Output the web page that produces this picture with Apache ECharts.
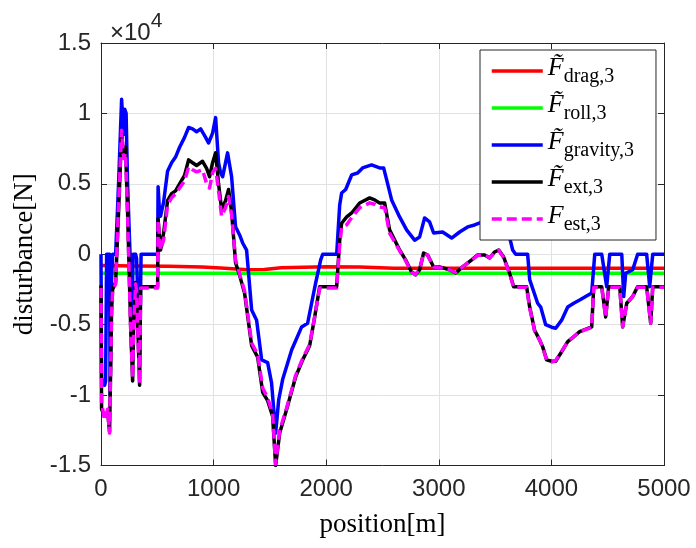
<!DOCTYPE html>
<html><head><meta charset="utf-8">
<script src="https://cdn.jsdelivr.net/npm/echarts@6/dist/echarts.min.js"></script>
<style>html,body{margin:0;padding:0;background:#fff}#c{width:696px;height:548px}</style>
</head><body><div id="c"></div>
<script>
// position [m], disturbance [N]
const drag = [[0,-800],[300,-830],[600,-850],[900,-900],[1100,-1000],[1300,-1100],[1450,-1080],[1600,-960],[2000,-890],[2300,-900],[2600,-990],[3000,-1000],[5000,-1000]];
const roll = [[0,-1350],[5000,-1350]];
const gravity = [[0,0],[5,-8800],[32,-9300],[41,-9000],[50,0],[76,0],[81,-10000],[94,-1800],[103,0],[130,0],[156,5000],[183,11000],[201,8500],[210,10300],[223,10000],[236,5000],[258,0],[272,-6800],[285,0],[307,0],[316,-300],[334,-4800],[343,-7100],[356,0],[503,0],[507,4800],[520,3000],[529,2700],[556,3700],[591,5900],[627,6500],[662,6900],[698,7600],[742,8300],[778,9000],[813,8900],[849,8700],[885,8900],[902,9000],[929,8300],[955,7900],[991,8600],[1018,9700],[1044,6500],[1062,5800],[1080,5500],[1124,7200],[1160,5500],[1195,1950],[1231,1370],[1258,800],[1293,300],[1338,-3960],[1382,-4680],[1427,-7500],[1480,-7700],[1515,-9150],[1551,-12700],[1578,-10350],[1613,-8900],[1693,-6800],[1782,-5160],[1835,-4900],[1906,-2050],[1951,-400],[1969,0],[2093,0],[2120,3500],[2137,4350],[2173,4600],[2226,5630],[2279,5770],[2323,6130],[2403,6340],[2474,6130],[2510,6130],[2537,5280],[2581,3860],[2652,2650],[2714,1730],[2785,1000],[2830,1230],[2874,2580],[2918,2300],[2954,1510],[3034,1580],[3114,1150],[3185,1580],[3256,1940],[3318,2080],[3452,2500],[3585,2300],[3629,1200],[3656,300],[3683,0],[3789,0],[3807,-1800],[3878,-3480],[3905,-3750],[3949,-5000],[4002,-5180],[4038,-5250],[4091,-4680],[4145,-3740],[4198,-3480],[4251,-3250],[4358,-2750],[4385,0],[4447,0],[4491,-2300],[4518,0],[4625,0],[4642,-3000],[4660,-1350],[4722,-1100],[4766,0],[4846,0],[4873,-2300],[4900,0],[5000,0]];
const ext = [[0,-2200],[5,-11000],[32,-11500],[59,-11200],[76,-12600],[94,-4000],[103,-2500],[130,-2000],[156,3000],[183,8600],[201,7000],[218,7600],[236,3000],[263,-5000],[281,-9000],[290,-5000],[307,-2000],[316,-2500],[334,-7000],[343,-9300],[352,-2300],[503,-2300],[507,2500],[529,300],[556,1500],[591,3800],[627,4300],[662,4500],[698,5000],[742,5600],[778,6700],[813,6500],[849,6300],[902,6600],[938,6100],[964,5500],[991,6500],[1018,7200],[1044,5000],[1071,3200],[1106,3800],[1133,4600],[1160,3000],[1195,-600],[1231,-1500],[1275,-2750],[1338,-6500],[1391,-7300],[1436,-9800],[1480,-10400],[1524,-11500],[1551,-15000],[1587,-12700],[1649,-11000],[1729,-8700],[1791,-7500],[1853,-6500],[1898,-4450],[1942,-2300],[2093,-2300],[2120,1000],[2137,2200],[2182,2650],[2226,2930],[2297,3640],[2386,4000],[2430,3860],[2474,3640],[2519,3640],[2563,1730],[2652,300],[2705,-400],[2758,-1260],[2794,-1470],[2830,-1100],[2865,90],[2901,-50],[2954,-900],[3007,-900],[3096,-1100],[3150,-1330],[3212,-900],[3292,-400],[3345,-50],[3407,-50],[3452,-260],[3496,160],[3532,300],[3576,-200],[3629,-1350],[3665,-2300],[3780,-2300],[3807,-3740],[3851,-5400],[3896,-6100],[3922,-6560],[3958,-7500],[4002,-7600],[4038,-7600],[4091,-6920],[4145,-6200],[4198,-5860],[4251,-5500],[4358,-5160],[4376,-2300],[4447,-2300],[4482,-4450],[4509,-2300],[4607,-2300],[4633,-5160],[4669,-3480],[4722,-3000],[4766,-2300],[4846,-2300],[4882,-4900],[4900,-2300],[5000,-2300]];
const est = [[0,-2400],[5,-10500],[32,-11800],[59,-11000],[76,-12700],[94,-4200],[103,-2600],[130,-2100],[156,3500],[183,8800],[201,6800],[218,7200],[236,2800],[263,-5200],[281,-8800],[290,-5200],[307,-2100],[316,-2600],[334,-7200],[343,-9200],[352,-2400],[503,-2400],[507,2400],[529,300],[556,1000],[591,3500],[627,4000],[662,4300],[698,4700],[742,5200],[778,6200],[813,6000],[849,5850],[902,6000],[938,5000],[964,4700],[991,5800],[1018,6100],[1044,4500],[1071,2700],[1106,3300],[1133,4100],[1160,2800],[1195,-400],[1231,-1400],[1275,-2600],[1338,-6300],[1391,-7100],[1436,-9500],[1480,-10200],[1524,-11300],[1551,-14900],[1587,-12500],[1649,-10900],[1729,-8600],[1791,-7400],[1853,-6400],[1898,-4400],[1942,-2400],[2093,-2400],[2120,700],[2137,1900],[2182,2100],[2226,2600],[2297,3300],[2386,3650],[2430,3550],[2474,3350],[2519,3300],[2563,1500],[2652,250],[2705,-450],[2758,-1300],[2794,-1450],[2830,-1050],[2865,50],[2901,-80],[2954,-900],[3007,-950],[3096,-1100],[3150,-1300],[3212,-880],[3292,-420],[3345,-80],[3407,-60],[3452,-250],[3496,120],[3532,280],[3576,-250],[3629,-1400],[3665,-2350],[3780,-2350],[3807,-3800],[3851,-5450],[3896,-6100],[3922,-6600],[3958,-7500],[4002,-7650],[4038,-7550],[4091,-6900],[4145,-6200],[4198,-5850],[4251,-5500],[4358,-5200],[4376,-2350],[4447,-2350],[4482,-4450],[4509,-2350],[4607,-2350],[4633,-5150],[4669,-3500],[4722,-3000],[4766,-2350],[4846,-2350],[4882,-4900],[4900,-2350],[5000,-2350]];

const seriesNames = ['drag','roll','gravity','ext','est'];
const legendSub = {drag:'drag,3', roll:'roll,3', gravity:'gravity,3', ext:'ext,3', est:'est,3'};
const xTickLabels = ['0','1000','2000','3000','4000','5000'];
const yTickLabels = ['-1.5','-1','-0.5','0','0.5','1','1.5'];

const chart = echarts.init(document.getElementById('c'), null, {renderer:'canvas'});
const axisCol = '#262626';
const gridCol = '#e2e2e2';
const serif = 'Liberation Serif';
const sans = 'Liberation Sans';

function mk(name, data, color, dash){
  return {name, type:'line', data, xAxisIndex:0, yAxisIndex:0, showSymbol:false, symbol:'none',
    lineStyle:{color, width:3.5, type: dash ? [10,5] : 'solid', join:'round', cap:'butt'},
    itemStyle:{color}, animation:false, silent:true};
}

chart.setOption({
  animation:false,
  backgroundColor:'#fff',
  title:{text:'{a|×10}{s|4}', left:105, top:6, textStyle:{fontWeight:'normal', rich:{
    a:{fontFamily:sans, fontSize:24, fontWeight:'normal', color:axisCol, lineHeight:34, verticalAlign:'bottom'},
    s:{fontFamily:sans, fontSize:21, fontWeight:'normal', color:axisCol, lineHeight:21, verticalAlign:'top'}}}},
  grid:{left:101, right:32, top:43, bottom:82.5, containLabel:false},
  legend:{orient:'vertical', left:480, top:50, data:seriesNames, itemWidth:51, itemHeight:14, itemGap:5,
    padding:[5,22,5,10], backgroundColor:'#fff', borderColor:axisCol, borderWidth:1, borderRadius:0,
    itemStyle:{opacity:0, borderWidth:0},
    lineStyle:{width:3.5},
    formatter: n => n==='est' ? '{F|F}{s|'+legendSub[n]+'}' : '{F|F\u0303}{s|'+legendSub[n]+'}',
    textStyle:{rich:{
      F:{fontFamily:serif, fontStyle:'italic', fontSize:26, color:'#000', lineHeight:32, verticalAlign:'top'},
      s:{fontFamily:serif, fontSize:20, color:'#000', lineHeight:20, verticalAlign:'bottom'}}}},
  xAxis:[{type:'value', min:0, max:5000, interval:1000, position:'bottom',
    axisLine:{show:true, onZero:false, lineStyle:{color:axisCol, width:1}},
    axisTick:{show:true, inside:true, length:6, lineStyle:{color:axisCol}},
    axisLabel:{fontFamily:sans, fontSize:24, color:axisCol, margin:12,
      formatter: v => xTickLabels[Math.round(v/1000)]},
    splitLine:{show:true, lineStyle:{color:gridCol, width:1}},
    name:'position[m]', nameLocation:'middle', nameGap:46,
    nameTextStyle:{fontFamily:serif, fontSize:27, color:'#000'}},
   {type:'value', min:0, max:5000, interval:1000, position:'top',
    axisLine:{show:true, onZero:false, lineStyle:{color:axisCol, width:1}},
    axisTick:{show:true, inside:true, length:6, lineStyle:{color:axisCol}},
    axisLabel:{show:false}, splitLine:{show:false}}],
  yAxis:[{type:'value', min:-15000, max:15000, interval:5000, position:'left',
    axisLine:{show:true, onZero:false, lineStyle:{color:axisCol, width:1}},
    axisTick:{show:true, inside:true, length:6, lineStyle:{color:axisCol}},
    axisLabel:{fontFamily:sans, fontSize:24, color:axisCol, margin:10,
      formatter: v => yTickLabels[Math.round((v+15000)/5000)]},
    splitLine:{show:true, lineStyle:{color:gridCol, width:1}},
    name:'disturbance[N]', nameLocation:'middle', nameGap:58, nameRotate:90,
    nameTextStyle:{fontFamily:serif, fontSize:27, color:'#000'}},
   {type:'value', min:-15000, max:15000, interval:5000, position:'right',
    axisLine:{show:true, onZero:false, lineStyle:{color:axisCol, width:1}},
    axisTick:{show:true, inside:true, length:6, lineStyle:{color:axisCol}},
    axisLabel:{show:false}, splitLine:{show:false}}],
  series:[
    mk('drag', drag, '#ff0000'),
    mk('roll', roll, '#00ff00'),
    mk('gravity', gravity, '#0000ff'),
    mk('ext', ext, '#000000'),
    mk('est', est, '#ff00ff', true)
  ]
});
</script></body></html>
